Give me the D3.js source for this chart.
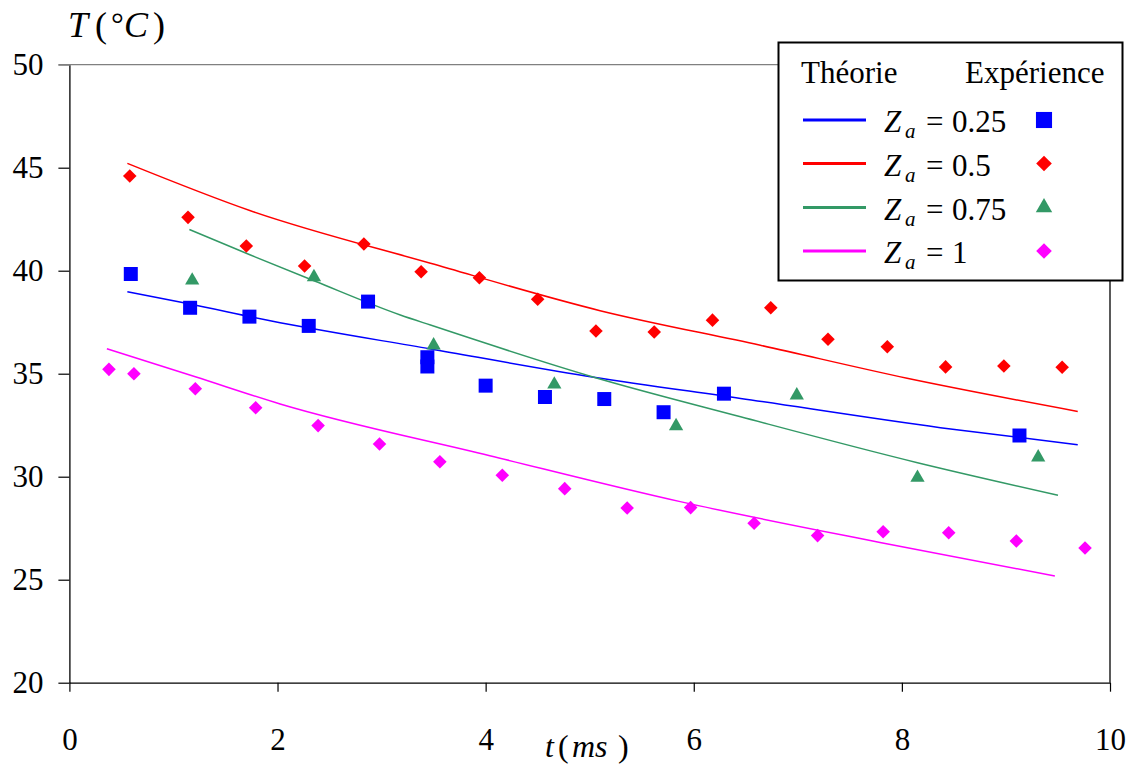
<!DOCTYPE html>
<html>
<head>
<meta charset="utf-8">
<script src="https://cdn.jsdelivr.net/npm/d3@7"></script>
<style>
  html, body { margin: 0; padding: 0; background: #fff; }
  svg { display: block; }
  svg text { font-family: "Liberation Serif", Tinos, "Times New Roman", Times, "DejaVu Serif", serif; }
</style>
</head>
<body>
<svg id="chart" width="1135" height="769"></svg>
<script>
// ---------- data ----------
const xTicks = [0, 2, 4, 6, 8, 10];
const yTicks = [20, 25, 30, 35, 40, 45, 50];

const seriesNames = ["0.25", "0.5", "0.75", "1"];

// theoretical curves (t in ms, T in °C)
const theoT_025 = [0.557, 1.16, 1.93, 3.47, 5.04, 6.45, 8.37, 9.69];
const theoV_025 = [38.98, 38.38, 37.57, 36.2, 34.83, 33.8, 32.38, 31.55];
const theoT_05  = [0.557, 1.74, 3.47, 5.10, 6.64, 8.05, 9.69];
const theoV_05  = [45.21, 42.91, 40.36, 38.06, 36.38, 34.78, 33.17];
const theoT_075 = [1.153, 1.74, 2.35, 3.18, 3.47, 5.04, 6.45, 8.15, 9.5];
const theoV_075 = [42.0, 40.76, 39.51, 37.85, 37.36, 34.83, 32.91, 30.68, 29.1];
const theoT_1   = [0.36, 1.21, 2.025, 4.04, 5.87, 7.79, 9.47];
const theoV_1   = [36.21, 34.85, 33.53, 31.02, 28.79, 26.81, 25.18];

// experimental points
const expT_025 = [0.59, 1.16, 1.73, 2.30, 2.87, 3.44, 3.44, 4.00, 4.57, 5.14, 5.71, 6.29, 9.13];
const expV_025 = [39.84, 38.2, 37.77, 37.32, 38.5, 35.8, 35.35, 34.42, 33.87, 33.77, 33.13, 34.03, 32.0];
const expT_05  = [0.58, 1.14, 1.70, 2.26, 2.83, 3.38, 3.94, 4.50, 5.06, 5.62, 6.18, 6.74, 7.29, 7.86, 8.42, 8.98, 9.54];
const expV_05  = [44.6, 42.59, 41.2, 40.23, 41.3, 39.95, 39.66, 38.61, 37.07, 37.02, 37.6, 38.2, 36.67, 36.31, 35.33, 35.37, 35.31];
const expT_075 = [1.18, 2.35, 3.50, 4.66, 5.83, 6.99, 8.15, 9.31];
const expV_075 = [39.53, 39.69, 36.38, 34.48, 32.46, 33.95, 29.95, 30.94];
const expT_1   = [0.38, 0.62, 1.21, 1.79, 2.39, 2.98, 3.56, 4.16, 4.76, 5.36, 5.97, 6.58, 7.19, 7.82, 8.45, 9.10, 9.76];
const expV_1   = [35.21, 35.0, 34.27, 33.35, 32.48, 31.59, 30.73, 30.07, 29.42, 28.48, 28.50, 27.74, 27.14, 27.33, 27.28, 26.88, 26.54];

// ---------- build ----------
const colors = ["#0000ff", "#ff0000", "#339966", "#ff00ff"];
const shapes = ["square", "diamond", "triangle", "diamond"];
const theo = [[theoT_025, theoV_025], [theoT_05, theoV_05], [theoT_075, theoV_075], [theoT_1, theoV_1]];
const expe = [[expT_025, expV_025], [expT_05, expV_05], [expT_075, expV_075], [expT_1, expV_1]];

const svg = d3.select("#chart");
const pLeft = 69.4, pRight = 1110, pTop = 64.7, pBottom = 682.7;
const x = d3.scaleLinear().domain([0, 10]).range([pLeft, pRight]);
const y = d3.scaleLinear().domain([20, 50]).range([pBottom, pTop]);

function symbolPath(shape, scale) {
  if (shape === "square") return d3.symbol(d3.symbolSquare, 196 * scale * scale)();
  if (shape === "triangle") return d3.symbol(d3.symbolTriangle, 88 * scale * scale)();
  return d3.symbol(d3.symbolSquare, 92 * scale * scale)();
}
function symbolRot(shape) { return shape === "diamond" ? 45 : 0; }

// top (gray) border and right border
svg.append("line").attr("x1", pLeft - 11).attr("x2", pRight).attr("y1", y(50)).attr("y2", y(50))
  .attr("stroke", "#808080").attr("stroke-width", 1.3);
svg.append("line").attr("x1", pRight).attr("x2", pRight).attr("y1", y(50)).attr("y2", y(20))
  .attr("stroke", "#000").attr("stroke-width", 1.3);

// axes
const yAxis = svg.append("g").attr("transform", `translate(${pLeft},0)`)
  .call(d3.axisLeft(y).tickValues(yTicks).tickSize(11).tickPadding(15).tickSizeOuter(0));
const xAxis = svg.append("g").attr("transform", `translate(0,${pBottom})`)
  .call(d3.axisBottom(x).tickValues(xTicks).tickSize(9).tickPadding(36).tickSizeOuter(0));
[xAxis, yAxis].forEach(g => {
  g.attr("font-family", null).attr("font-size", null);
  g.selectAll("path.domain").attr("stroke", "#000").attr("stroke-width", 1.3);
  g.selectAll(".tick line").attr("stroke", "#000").attr("stroke-width", 1.2);
  g.selectAll(".tick text").attr("font-size", 31).attr("fill", "#000");
});
yAxis.selectAll(".tick").filter(d => d === 50).select("line").attr("stroke", "#808080");

// theoretical curves
const line = d3.line().x(d => x(d[0])).y(d => y(d[1])).curve(d3.curveMonotoneX);
theo.forEach((s, i) => {
  const pts = s[0].map((t, k) => [t, s[1][k]]);
  svg.append("path").datum(pts).attr("d", line)
    .attr("fill", "none").attr("stroke", colors[i]).attr("stroke-width", 1.5);
});

// experimental points
expe.forEach((s, i) => {
  const pts = s[0].map((t, k) => [t, s[1][k]]);
  svg.append("g").selectAll("path").data(pts).join("path")
    .attr("d", symbolPath(shapes[i], 1))
    .attr("transform", d => `translate(${x(d[0])},${y(d[1])}) rotate(${symbolRot(shapes[i])})`)
    .attr("fill", colors[i]);
});

// title y
const ty = svg.append("text").attr("y", 37).attr("font-size", 36).attr("fill", "#000");
ty.append("tspan").attr("x", 68).attr("font-style", "italic").text("T");
ty.append("tspan").attr("x", 95).text("(");
ty.append("tspan").attr("x", 111).attr("font-size", 32).attr("dy", -2).text("°");
ty.append("tspan").attr("x", 124).attr("dy", 2).attr("font-style", "italic").text("C");
ty.append("tspan").attr("x", 153).text(")");

// title x
const tx = svg.append("text").attr("y", 757).attr("font-size", 32).attr("fill", "#000");
tx.append("tspan").attr("x", 545).attr("font-style", "italic").text("t");
tx.append("tspan").attr("x", 558).text("(");
tx.append("tspan").attr("x", 572).attr("font-style", "italic").text("ms");
tx.append("tspan").attr("x", 618).text(")");

// legend
const lg = svg.append("g");
lg.append("rect").attr("x", 778.5).attr("y", 42.5).attr("width", 344).attr("height", 238)
  .attr("fill", "#fff").attr("stroke", "#000").attr("stroke-width", 2);
lg.append("text").attr("x", 801).attr("y", 83).attr("font-size", 31).text("Théorie");
lg.append("text").attr("x", 965).attr("y", 83).attr("font-size", 31).text("Expérience");
const rowY = [120, 163.5, 207.5, 251];
seriesNames.forEach((nm, i) => {
  const ry = rowY[i];
  lg.append("line").attr("x1", 803).attr("x2", 866).attr("y1", ry).attr("y2", ry)
    .attr("stroke", colors[i]).attr("stroke-width", 3);
  const t = lg.append("text").attr("y", ry + 12).attr("font-size", 31).attr("fill", "#000");
  t.append("tspan").attr("x", 884).attr("font-style", "italic").text("Z");
  t.append("tspan").attr("x", 905).attr("dy", 6).attr("font-size", 21).attr("font-style", "italic").text("a");
  t.append("tspan").attr("x", 926).attr("dy", -6).text("=");
  t.append("tspan").attr("x", 952).text(nm);
  lg.append("path").attr("d", symbolPath(shapes[i], 1.15))
    .attr("transform", `translate(1044,${ry}) rotate(${symbolRot(shapes[i])})`)
    .attr("fill", colors[i]);
});
</script>
</body>
</html>
